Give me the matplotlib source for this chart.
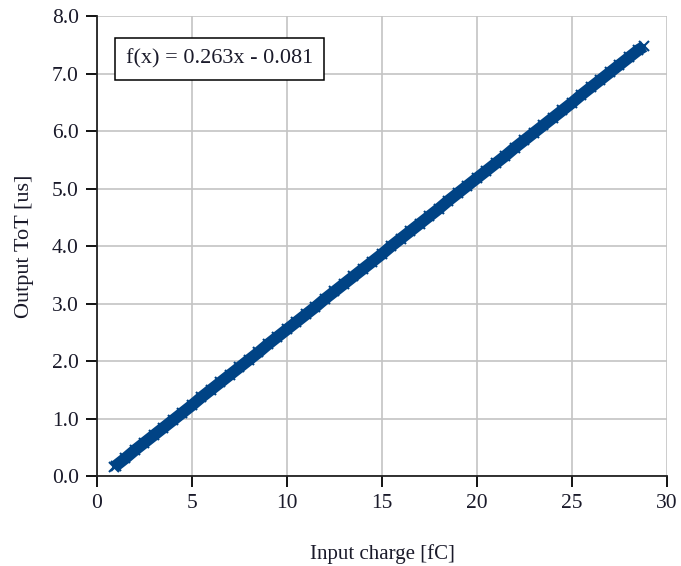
import matplotlib.pyplot as plt

charge = [0.9, 1.0, 1.5, 2.0, 2.5, 3.0, 3.5, 4.0, 4.5, 5.0, 5.5, 6.0, 6.5, 7.0,
          7.5, 8.0, 8.5, 9.0, 9.5, 10.0, 10.5, 11.0, 11.5, 12.0, 12.5, 13.0,
          13.5, 14.0, 14.5, 15.0, 15.5, 16.0, 16.5, 17.0, 17.5, 18.0, 18.5,
          19.0, 19.5, 20.0, 20.5, 21.0, 21.5, 22.0, 22.5, 23.0, 23.5, 24.0,
          24.5, 25.0, 25.5, 26.0, 26.5, 27.0, 27.5, 28.0, 28.5, 28.8]
tot = [0.15, 0.18, 0.31, 0.45, 0.58, 0.71, 0.84, 0.97, 1.10, 1.23, 1.37, 1.50,
       1.63, 1.76, 1.89, 2.02, 2.15, 2.29, 2.42, 2.55, 2.68, 2.81, 2.94, 3.08,
       3.21, 3.34, 3.47, 3.60, 3.73, 3.86, 4.00, 4.13, 4.26, 4.39, 4.52, 4.65,
       4.79, 4.92, 5.05, 5.18, 5.31, 5.44, 5.57, 5.71, 5.84, 5.97, 6.10, 6.23,
       6.36, 6.49, 6.63, 6.76, 6.89, 7.02, 7.15, 7.28, 7.41, 7.47]
fit_label = 'f(x) = 0.263x - 0.081'
xticks = [0, 5, 10, 15, 20, 25, 30]
yticks = [0, 1, 2, 3, 4, 5, 6, 7, 8]

plt.rcParams['font.family'] = ['Liberation Serif', 'DejaVu Serif']
blue = '#004385'
txt = '#1a1a2a'

fig = plt.figure(figsize=(6.81, 5.66), dpi=100)
ax = fig.add_axes([0.1424, 0.159, 0.837, 0.8127])

ax.plot(charge, tot, color=blue, lw=8.5, solid_capstyle='butt', zorder=3)
ax.plot(charge, tot, 'x', color=blue, ms=7, mew=1.5, zorder=3)

ax.set_xlim(0, 30)
ax.set_ylim(0, 8)
ax.set_xticks(xticks)
ax.set_yticks(yticks)
ax.set_yticklabels([f'{v:.1f}' for v in yticks])
ax.grid(True, color='#c4c4c4', lw=1.2, zorder=0)
ax.set_axisbelow(True)
for s in ['top', 'right']:
    ax.spines[s].set_visible(False)
for s in ['left', 'bottom']:
    ax.spines[s].set_linewidth(1.3)
    ax.spines[s].set_color('#222222')
ax.tick_params(direction='out', length=8, width=1.3, labelsize=15.5,
               labelcolor=txt, pad=5)

ax.set_xlabel('Input charge [fC]', fontsize=15, color=txt, labelpad=22)
ax.set_ylabel('Output ToT [us]', fontsize=16, color=txt, labelpad=13)

ax.text(0.051, 0.906, fit_label, transform=ax.transAxes, fontsize=16,
        color=txt, va='center', ha='left',
        bbox=dict(boxstyle='square,pad=0.5', fc='white', ec='black', lw=1.1))

fig.savefig('out.png', dpi=100)
